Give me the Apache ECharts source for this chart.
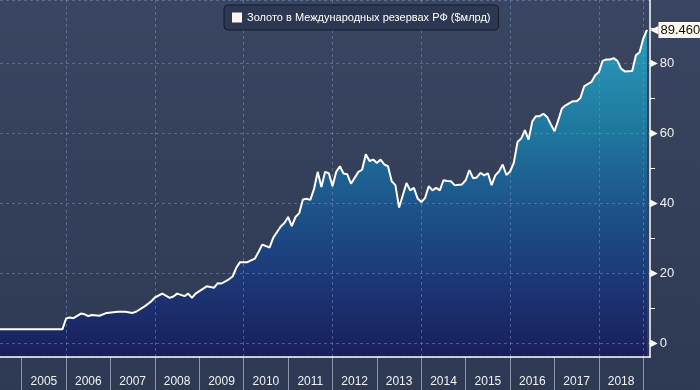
<!DOCTYPE html>
<html>
<head>
<meta charset="utf-8">
<script src="https://cdn.jsdelivr.net/npm/echarts@6/dist/echarts.min.js"></script>
<style>
  html, body { margin: 0; padding: 0; background: #333f59; }
  #chart { width: 700px; height: 390px; }
</style>
</head>
<body>
<div id="chart"></div>
<script>
// ---- Data ----
const seriesName = 'Золото в Международных резервах РФ ($млрд)';
const months = [
  '2004-07','2005-12','2006-01','2006-02','2006-03','2006-05','2006-06','2006-07','2006-08','2006-10','2006-12',
  '2007-03','2007-05','2007-07','2007-08','2007-10','2007-12',
  '2008-01','2008-03','2008-05','2008-06','2008-07','2008-09','2008-10','2008-11','2008-12',
  '2009-03','2009-05','2009-06','2009-07','2009-09','2009-10','2009-11','2009-12',
  '2010-02','2010-04','2010-05','2010-06','2010-08','2010-09','2010-11','2010-12',
  '2011-01','2011-02','2011-03','2011-04','2011-05','2011-06','2011-07','2011-08','2011-09','2011-10','2011-11','2011-12',
  '2012-01','2012-02','2012-03','2012-04','2012-05','2012-06','2012-08','2012-09','2012-10','2012-11','2012-12',
  '2013-01','2013-02','2013-03','2013-04','2013-05','2013-06','2013-07','2013-08','2013-09','2013-10','2013-11','2013-12',
  '2014-01','2014-02','2014-03','2014-04','2014-05','2014-06','2014-07','2014-08','2014-09','2014-10','2014-12',
  '2015-01','2015-02','2015-03','2015-04','2015-05','2015-06','2015-07','2015-08','2015-09','2015-10','2015-11','2015-12',
  '2016-01','2016-02','2016-03','2016-04','2016-05','2016-06','2016-07','2016-08','2016-09','2016-10','2016-11','2016-12',
  '2017-01','2017-02','2017-03','2017-04','2017-06','2017-07','2017-08','2017-09','2017-10','2017-11','2017-12',
  '2018-01','2018-02','2018-03','2018-04','2018-05','2018-06','2018-07','2018-08','2018-10','2018-11','2018-12',
  '2019-01','2019-02'
];
const values = [
  3.9, 3.9, 7.0, 7.3, 7.1, 8.4, 8.2, 7.7, 8.0, 7.8, 8.6,
  8.9, 8.9, 8.6, 9.0, 10.3, 11.9,
  13.0, 14.1, 12.9, 13.3, 14.1, 13.4, 14.1, 12.9, 14.1,
  16.2, 15.8, 17.1, 17.0, 18.2, 19.0, 21.5, 23.1,
  23.1, 24.1, 26.0, 28.1, 27.3, 30.1, 33.3, 34.3,
  36.0, 33.4, 36.0, 37.1, 41.0, 41.2, 40.9, 44.0, 48.9, 44.6, 48.9, 48.5,
  44.8, 48.9, 50.5, 48.4, 48.2, 45.5, 48.9, 49.5, 53.9, 52.0, 52.4,
  51.4, 52.4, 51.0, 50.5, 46.2, 45.1, 38.7, 42.2, 45.7, 43.6, 44.3, 41.3,
  40.3, 41.4, 44.8, 43.6, 44.3, 43.6, 46.5, 46.3, 46.2, 45.1, 45.3,
  46.5, 49.4, 47.1, 47.3, 48.6, 47.9, 48.5, 45.1, 47.9, 49.0, 51.0, 48.0,
  49.0, 51.5, 57.4, 58.4, 60.8, 58.1, 63.3, 64.8, 64.8, 65.5, 64.6, 62.5,
  60.5, 63.6, 67.0, 67.9, 69.1, 69.1, 70.0, 73.3, 74.0, 74.6, 76.5,
  77.4, 80.6, 81.0, 81.0, 81.4, 80.6, 78.4, 77.6, 77.7, 82.2, 83.1,
  87.0, 89.46
];
const yearLabels = ['2005','2006','2007','2008','2009','2010','2011','2012','2013','2014','2015','2016','2017','2018'];
const yTickValues = [0, 20, 40, 60, 80];

// ---- Build ----
function toYear(s) {
  const p = s.split('-');
  return Number(p[0]) + (Number(p[1]) - 1) / 12;
}
const points = months.map((m, i) => [toYear(m), values[i]]);

const chart = echarts.init(document.getElementById('chart'), null, { renderer: 'canvas' });
const FONT = 'Liberation Sans';

const option = {
  animation: false,
  backgroundColor: new echarts.graphic.LinearGradient(0, 0, 0, 1, [
    { offset: 0, color: '#3a4561' },
    { offset: 1, color: '#2e3a54' }
  ]),
  textStyle: { fontFamily: FONT },
  legend: {
    show: true,
    left: 224,
    top: 5,
    padding: [7, 8, 7, 8],
    itemGap: 5,
    itemWidth: 10,
    itemHeight: 10,
    icon: 'rect',
    backgroundColor: '#2c3852',
    borderColor: '#121a2c',
    borderWidth: 1,
    borderRadius: 4,
    textStyle: { color: '#ffffff', fontSize: 11, fontFamily: FONT },
    data: [{ name: seriesName, itemStyle: { color: '#fff5ee' } }]
  },
  grid: [
    { left: 0, right: 50, top: 0, bottom: 33, containLabel: false },
    { left: 21.7, right: 56.7, top: 0, bottom: 33, containLabel: false }
  ],
  xAxis: [
    {
      type: 'value', gridIndex: 0,
      min: 2004.511, max: 2019.151,
      axisLine: { show: true, onZero: false, lineStyle: { color: '#ffffff', width: 1.5 } },
      axisTick: { show: false },
      axisLabel: { show: false },
      splitLine: { show: false },
      z: 4
    },
    {
      type: 'category', gridIndex: 1,
      data: yearLabels,
      boundaryGap: true,
      axisLine: { show: false },
      axisTick: { show: true, interval: 0, length: 33, lineStyle: { color: '#8d95a8', width: 1 } },
      axisLabel: { show: true, interval: 0, color: '#f2f2f2', fontSize: 12, fontFamily: FONT, margin: 19 },
      splitLine: {
        show: true,
        interval: function (index) { return index % 2 === 1; },
        lineStyle: { color: 'rgba(120,150,190,0.5)', type: [3, 3], width: 1 }
      },
      z: 2
    }
  ],
  yAxis: [
    {
      type: 'value', gridIndex: 0, position: 'right',
      min: -4, max: 98, splitNumber: 5,
      axisLine: { show: true, onZero: false, lineStyle: { color: '#ffffff', width: 1.5 } },
      axisTick: { show: false },
      minorTick: { show: true, splitNumber: 2, length: 5, lineStyle: { color: '#ffffff', width: 1 } },
      axisLabel: {
        show: true, margin: 0,
        formatter: function (v) {
          return yTickValues.indexOf(v) >= 0 ? '{t|▶}{v|' + v + '}' : '';
        },
        rich: {
          t: { color: '#ffffff', fontSize: 10, fontFamily: 'DejaVu Sans', padding: [0, 2, 0, 0] },
          v: { color: '#f2f2f2', fontSize: 13, fontFamily: FONT }
        }
      },
      splitLine: {
        show: true,
        lineStyle: { color: 'rgba(120,150,190,0.5)', type: [3, 3], width: 1 }
      },
      z: 2
    },
    { type: 'value', gridIndex: 1, show: false, min: 0, max: 1 }
  ],
  series: [
    {
      name: seriesName + ' area',
      type: 'line',
      xAxisIndex: 0, yAxisIndex: 0,
      data: points,
      symbol: 'none',
      silent: true,
      lineStyle: { width: 0, opacity: 0 },
      areaStyle: {
        origin: 'start',
        opacity: 1,
        color: new echarts.graphic.LinearGradient(0, 0, 0, 1, [
          { offset: 0, color: '#2a9bbb' },
          { offset: 0.3, color: '#1f78a0' },
          { offset: 0.55, color: '#1d5288' },
          { offset: 0.78, color: '#1c3675' },
          { offset: 1, color: '#1a1e5c' }
        ])
      },
      z: 1
    },
    {
      name: seriesName,
      type: 'line',
      xAxisIndex: 0, yAxisIndex: 0,
      data: points,
      symbol: 'none',
      itemStyle: { color: '#fff5ee' },
      lineStyle: { color: '#ffffff', width: 2 },
      endLabel: {
        show: true,
        distance: 3,
        formatter: function (p) { return '{a|◀}{b|' + p.value[1].toFixed(3) + '}'; },
        rich: {
          a: { color: '#fff8ee', fontSize: 11, fontFamily: 'DejaVu Sans' },
          b: { color: '#111111', fontSize: 13, fontFamily: FONT, backgroundColor: '#fff8ee',
               padding: [2, 6, 1, 2], lineHeight: 16 }
        }
      },
      z: 3
    }
  ]
};
chart.setOption(option);
</script>
</body>
</html>
